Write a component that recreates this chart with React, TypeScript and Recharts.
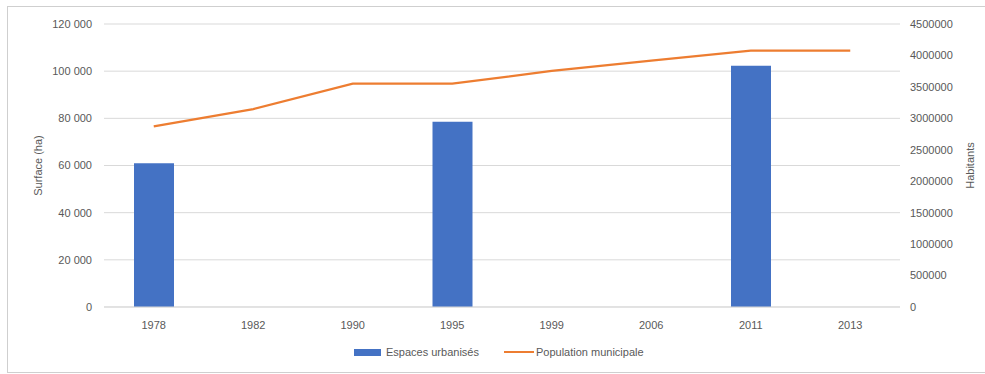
import React from 'react';
import { ComposedChart, Bar, Line, XAxis, YAxis, CartesianGrid, Legend } from 'recharts';

const years = ['1978', '1982', '1990', '1995', '1999', '2006', '2011', '2013'];
const surfaceHa = [61000, null, null, 78500, null, null, 102300, null];
const population = [2873000, 3148000, 3551000, 3551000, 3753000, 3919000, 4075000, 4075000];

const leftTicks = [0, 20000, 40000, 60000, 80000, 100000, 120000];
const rightTicks = [0, 500000, 1000000, 1500000, 2000000, 2500000, 3000000, 3500000, 4000000, 4500000];

const data = years.map((year, i) => ({
  year,
  surface: surfaceHa[i],
  population: population[i],
}));

const FONT = '"Liberation Sans", Arial, sans-serif';
const TEXT = '#595959';
const BLUE = '#4472C4';
const ORANGE = '#ED7D31';
const GRID = '#D9D9D9';

const fmtSpace = (v: number) => String(v).replace(/\B(?=(\d{3})+(?!\d))/g, ' ');

const LegendContent = () => (
  <div style={{ display: 'flex', alignItems: 'center', fontFamily: FONT, fontSize: 11, color: TEXT, marginLeft: 346 }}>
    <span style={{ display: 'inline-block', width: 27, height: 7, background: BLUE, marginRight: 5 }} />
    <span style={{ marginRight: 25 }}>Espaces urbanisés</span>
    <span style={{ display: 'inline-block', width: 30, height: 2, background: ORANGE, marginRight: 2 }} />
    <span>Population municipale</span>
  </div>
);

export default function App() {
  const tick = { fontSize: 11, fill: TEXT, fontFamily: FONT };
  return (
    // frame runs off the right edge in the original, so no right border
    <div
      style={{
        position: 'absolute',
        left: 7,
        top: 6,
        width: 977,
        height: 365,
        border: '1px solid #CFCFCF',
        borderRight: 'none',
        background: '#fff',
      }}
    >
      <ComposedChart width={976} height={365} data={data} margin={{ top: 17, right: 0, bottom: 35, left: 0 }}>
        <CartesianGrid yAxisId="left" vertical={false} stroke={GRID} />
        <XAxis
          dataKey="year"
          tick={tick}
          tickLine={false}
          tickSize={0}
          tickMargin={14}
          axisLine={{ stroke: GRID }}
          height={30}
        />
        <YAxis
          yAxisId="left"
          orientation="left"
          domain={[0, 120000]}
          ticks={leftTicks}
          tickFormatter={fmtSpace}
          tick={tick}
          tickLine={false}
          tickSize={0}
          tickMargin={12}
          axisLine={false}
          width={96}
          label={{
            value: 'Surface (ha)',
            angle: -90,
            position: 'insideLeft',
            offset: 30,
            style: { textAnchor: 'middle', fontSize: 11, fill: TEXT, fontFamily: FONT },
          }}
        />
        <YAxis
          yAxisId="right"
          orientation="right"
          domain={[0, 4500000]}
          ticks={rightTicks}
          tick={{ ...tick, textAnchor: 'start' }}
          tickLine={false}
          tickSize={0}
          tickMargin={10}
          axisLine={false}
          width={84}
          label={{
            value: 'Habitants',
            angle: -90,
            position: 'insideRight',
            offset: 14,
            style: { textAnchor: 'middle', fontSize: 11, fill: TEXT, fontFamily: FONT },
          }}
        />
        <Legend
          layout="horizontal"
          verticalAlign="middle"
          content={<LegendContent />}
          wrapperStyle={{ position: 'absolute', top: 339, left: 0, width: 976, height: 16 }}
        />
        <Bar yAxisId="left" dataKey="surface" name="Espaces urbanisés" fill={BLUE} barSize={40} isAnimationActive={false} />
        <Line
          yAxisId="right"
          type="linear"
          dataKey="population"
          name="Population municipale"
          stroke={ORANGE}
          strokeWidth={2.25}
          dot={false}
          activeDot={false}
          isAnimationActive={false}
        />
      </ComposedChart>
    </div>
  );
}
